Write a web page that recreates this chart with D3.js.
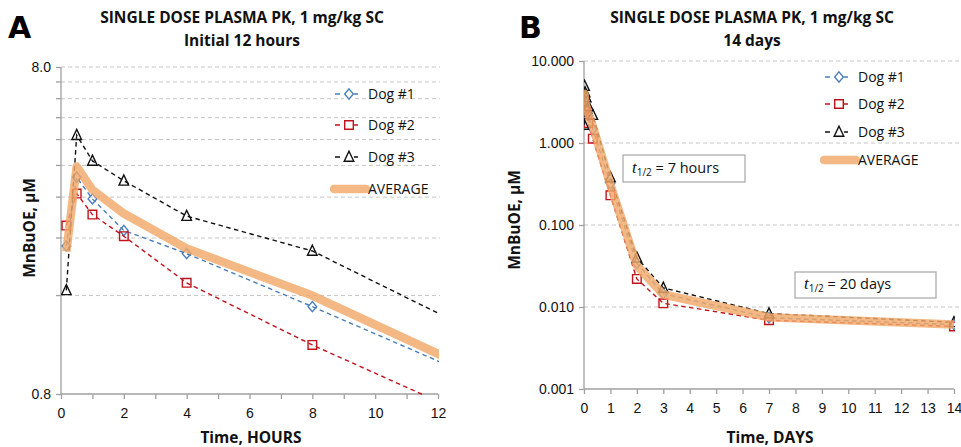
<!DOCTYPE html>
<html>
<head>
<meta charset="utf-8">
<script src="https://cdn.jsdelivr.net/npm/d3@7"></script>
<style>
  body { margin: 0; background: #fff; }
  svg { font-family: "Open Sans", "Noto Sans", sans-serif; }
</style>
</head>
<body>
<div id="chart"></div>
<script>
// sampling times (hours) and plasma values (uM)
var hours = [0.17, 0.5, 1, 2, 4, 8, 24, 48, 72, 168, 336];
var dog1 = [2.27, 3.68, 3.16, 2.53, 2.15, 1.48, 0.32, 0.034, 0.0145, 0.0074, 0.0061];
var dog2 = [2.62, 3.28, 2.83, 2.43, 1.75, 1.13, 0.23, 0.022, 0.0111, 0.0069, 0.0058];
var dog3 = [1.66, 4.95, 4.13, 3.59, 2.80, 2.19, 0.38, 0.040, 0.0171, 0.0083, 0.0065];
var average = [2.18, 3.97, 3.37, 2.85, 2.23, 1.60, 0.31, 0.032, 0.0142, 0.0075, 0.0061];

var seriesNames = ["Dog #1", "Dog #2", "Dog #3", "AVERAGE"];
var ticksA_x = [0, 2, 4, 6, 8, 10, 12];
var minorA_y = [1.6, 2.4, 3.2, 4.0, 4.8, 5.6, 6.4, 7.2];
var ticksB_y = [0.001, 0.01, 0.1, 1, 10];
var halfLives = ["7 hours", "20 days"];

var W = 961, H = 447;
var svg = d3.select("#chart").append("svg").attr("width", W).attr("height", H);

var styles = [
  {color: "#4a7ebb", shape: "diamond"},
  {color: "#c0141c", shape: "square"},
  {color: "#111111", shape: "triangle"}
];
var gridColor = "#c6c6c6", axisColor = "#a0a0a0";

function marker(g, shape, x, y, color) {
  var s = 4.3, p;
  if (shape == "diamond") p = [[x, y - s - 0.8], [x + s, y], [x, y + s + 0.8], [x - s, y]];
  else if (shape == "square") p = [[x - s, y - s], [x + s, y - s], [x + s, y + s], [x - s, y + s]];
  else p = [[x, y - s - 1.5], [x + s + 0.5, y + s], [x - s - 0.5, y + s]];
  g.append("polygon")
    .attr("points", p.map(function(d) { return d.join(","); }).join(" "))
    .attr("fill", "none").attr("stroke", color).attr("stroke-width", 1.4);
}

function drawPanel(cfg) {
  var g = svg.append("g");
  var x = cfg.x, y = cfg.y;
  var x0 = x.range()[0], x1 = x.range()[1], y0 = y.range()[0], y1 = y.range()[1];

  // gridlines
  g.selectAll(".grid").data(cfg.grid).enter().append("line")
    .attr("x1", x0).attr("x2", cfg.gridEnd)
    .attr("y1", function(d) { return y(d); }).attr("y2", function(d) { return y(d); })
    .attr("stroke", gridColor).attr("stroke-dasharray", "4,3");

  // axes
  var yAxis = g.append("g").attr("transform", "translate(" + x0 + ",0)")
    .call(d3.axisLeft(y).tickValues(cfg.yTicks).tickSize(cfg.yTickSize).tickFormat(cfg.yFormat).tickPadding(5));
  var xAxis = g.append("g").attr("transform", "translate(0," + y0 + ")")
    .call(d3.axisBottom(x).tickValues(cfg.xTicks).tickSize(5).tickFormat(cfg.xFormat).tickPadding(9));
  [yAxis, xAxis].forEach(function(a) {
    a.select(".domain").attr("stroke", axisColor).attr("stroke-width", 1.3);
    a.selectAll(".tick line").attr("stroke", axisColor).attr("stroke-width", 1.3);
    a.selectAll("text").attr("font-size", 14).attr("fill", "#111");
  });
  xAxis.select(".domain").attr("d", "M" + x0 + ",0H" + x1);
  yAxis.select(".domain").attr("d", "M0," + y0 + "V" + y1);
  if (cfg.yMinor) {
    g.append("g").attr("transform", "translate(" + x0 + ",0)")
      .selectAll("line").data(cfg.yMinor).enter().append("line")
      .attr("x1", -5).attr("x2", 0)
      .attr("y1", function(d) { return y(d); }).attr("y2", function(d) { return y(d); })
      .attr("stroke", axisColor).attr("stroke-width", 1.3);
  }

  // series
  var clipId = "clip" + cfg.id;
  svg.append("clipPath").attr("id", clipId).append("rect")
    .attr("x", x0).attr("y", y1 - 1).attr("width", x1 - x0 + 1).attr("height", y0 - y1 + 2);
  var plot = g.append("g").attr("clip-path", "url(#" + clipId + ")");
  var pts = function(vals) {
    return vals.map(function(v, i) { return [x(cfg.t(hours[i])), y(v)]; });
  };
  var line = d3.line();
  [dog1, dog2, dog3].forEach(function(vals, k) {
    var p = pts(vals);
    plot.append("path").attr("d", line(p)).attr("fill", "none")
      .attr("stroke", styles[k].color).attr("stroke-width", 1.4).attr("stroke-dasharray", "4.5,3.5");
    p.forEach(function(d) { marker(plot, styles[k].shape, d[0], d[1], styles[k].color); });
  });
  plot.append("path").attr("d", line(pts(average))).attr("fill", "none")
    .attr("stroke", "#f2a869").attr("stroke-opacity", 0.82).attr("stroke-width", 8.5)
    .attr("stroke-linejoin", "round");

  // legend
  var lg = g.append("g");
  seriesNames.forEach(function(name, k) {
    var ly = cfg.legY[k], lx = cfg.legX;
    if (k < 3) {
      lg.append("line").attr("x1", lx).attr("x2", lx + 27).attr("y1", ly).attr("y2", ly)
        .attr("stroke", styles[k].color).attr("stroke-width", 1.4).attr("stroke-dasharray", "5,4");
      lg.append("rect").attr("x", lx + 9).attr("y", ly - 6).attr("width", 10).attr("height", 12).attr("fill", "#fff");
      marker(lg, styles[k].shape, lx + 14, ly, styles[k].color);
    } else {
      lg.append("line").attr("x1", lx - 1).attr("x2", lx + 31).attr("y1", ly).attr("y2", ly)
        .attr("stroke", "#f2a869").attr("stroke-opacity", 0.82).attr("stroke-width", 8.5)
        .attr("stroke-linecap", "round");
    }
    lg.append("text").attr("x", lx + 33).attr("y", ly + 5).attr("font-size", 14).attr("fill", "#111").text(name);
  });

  // titles
  g.append("text").attr("x", cfg.titleX).attr("y", 23).attr("text-anchor", "middle")
    .attr("font-size", 15.5).attr("font-weight", "bold").attr("fill", "#111")
    .text("SINGLE DOSE PLASMA PK, 1 mg/kg SC");
  g.append("text").attr("x", cfg.titleX).attr("y", 46).attr("text-anchor", "middle")
    .attr("font-size", 15.5).attr("font-weight", "bold").attr("fill", "#111").text(cfg.sub);
  g.append("text").attr("x", cfg.letterX).attr("y", 38)
    .attr("font-family", "'DejaVu Sans', sans-serif").attr("font-size", 30).attr("font-weight", "900")
    .attr("fill", "#000").text(cfg.letter);
  g.append("text").attr("x", cfg.xTitleX).attr("y", 443).attr("text-anchor", "middle")
    .attr("font-size", 15.5).attr("font-weight", "bold").attr("fill", "#111").text(cfg.xTitle);
  g.append("text").attr("transform", "translate(" + cfg.yTitleX + "," + cfg.yTitleY + ") rotate(-90)")
    .attr("text-anchor", "middle").attr("font-size", 15.5).attr("font-weight", "bold").attr("fill", "#111")
    .text("MnBuOE, \u03bcM");
  return g;
}

// Panel A: first 12 hours
var xA = d3.scaleLinear().domain([0, 12]).range([61, 438]);
var yA = d3.scaleLog().domain([0.8, 8]).range([394, 67]);
drawPanel({
  id: "A", x: xA, y: yA, t: function(h) { return h; },
  grid: minorA_y.concat([8]), gridEnd: 440,
  yTicks: [0.8, 8], yTickSize: 5, yFormat: d3.format(".1f"), yMinor: minorA_y,
  xTicks: d3.range(0, 13), xFormat: function(d) { return ticksA_x.indexOf(d) >= 0 ? d : ""; },
  legX: 335, legY: [94, 125, 157, 189],
  titleX: 242, sub: "Initial 12 hours", letter: "A", letterX: 8,
  xTitle: "Time, HOURS", xTitleX: 251, yTitleX: 35, yTitleY: 228
});

// Panel B: 14 days
var xB = d3.scaleLinear().domain([0, 14]).range([584, 954]);
var yB = d3.scaleLog().domain([0.001, 10]).range([389, 61]);
var gB = drawPanel({
  id: "B", x: xB, y: yB, t: function(h) { return h / 24; },
  grid: ticksB_y.slice(1), gridEnd: 961,
  yTicks: ticksB_y, yTickSize: 5, yFormat: d3.format(".3f"), yMinor: null,
  xTicks: d3.range(0, 15), xFormat: function(d) { return d; },
  legX: 825, legY: [77, 104, 132, 160],
  titleX: 752, sub: "14 days", letter: "B", letterX: 519,
  xTitle: "Time, DAYS", xTitleX: 770, yTitleX: 520, yTitleY: 220
});

// half-life boxes
var boxes = [{x: 623, y: 155, w: 122, h: 27}, {x: 795, y: 272, w: 141, h: 26}];
boxes.forEach(function(b, i) {
  gB.append("rect").attr("x", b.x).attr("y", b.y).attr("width", b.w).attr("height", b.h)
    .attr("fill", "#fff").attr("stroke", "#a6a6a6").attr("stroke-width", 1.2);
  var t = gB.append("text").attr("x", b.x + 9).attr("y", b.y + b.h / 2 + 4)
    .attr("font-size", 14.5).attr("fill", "#111");
  t.append("tspan").attr("font-style", "italic").attr("font-family", "'Liberation Serif', serif").attr("font-size", 17).text("t");
  t.append("tspan").attr("font-size", 10).attr("dy", 3).text("1/2");
  t.append("tspan").attr("dy", -3).text(" = " + halfLives[i]);
});
</script>
</body>
</html>
